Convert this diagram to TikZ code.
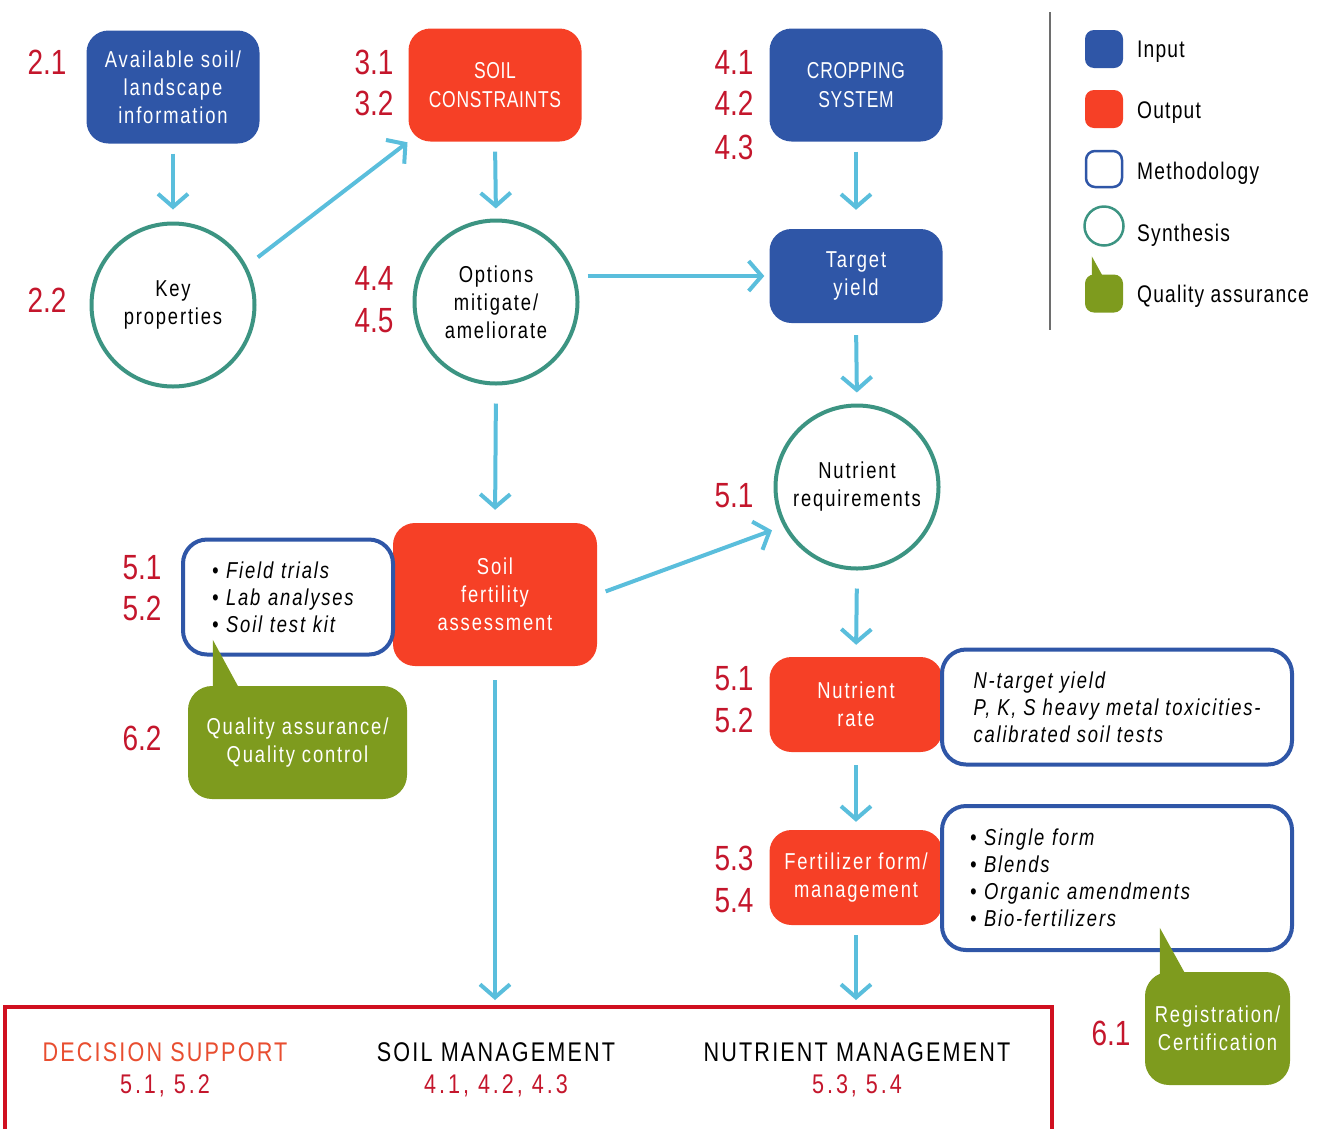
\documentclass[tikz,border=0pt]{standalone}
\usepackage{fontspec}
\usetikzlibrary{arrows.meta}
\setmainfont{Liberation Sans}
\newfontfamily\nodefont[FakeStretch=0.8,LetterSpace=8]{Liberation Sans}
\newfontfamily\itfont[FakeStretch=0.8,LetterSpace=8]{Liberation Sans Italic}
\newfontfamily\capsfont[FakeStretch=0.76,LetterSpace=3]{Liberation Sans}
\newfontfamily\legfont[FakeStretch=0.8,LetterSpace=5]{Liberation Sans}
\newfontfamily\numfont[FakeStretch=0.8]{Liberation Sans}
\newfontfamily\bigfont[FakeStretch=0.8,LetterSpace=8]{Liberation Sans}
\newfontfamily\bignumfont[FakeStretch=0.8,LetterSpace=11]{Liberation Sans}

\definecolor{cblue}{RGB}{47,86,167}
\definecolor{cred}{RGB}{246,64,38}
\definecolor{cgreen}{RGB}{126,155,30}
\definecolor{cteal}{RGB}{60,148,130}
\definecolor{carrow}{RGB}{90,190,220}
\definecolor{cnum}{RGB}{196,22,44}
\definecolor{cframe}{RGB}{208,16,32}
\definecolor{cdec}{RGB}{232,78,48}
\definecolor{cline}{RGB}{110,110,110}

\tikzset{
  txt/.style={font=\nodefont\fontsize{23pt}{28pt}\selectfont, align=center, inner sep=0pt},
  caps/.style={font=\capsfont\fontsize{23pt}{29pt}\selectfont},
  inbox/.style={txt, fill=cblue, text=white, rounded corners=22pt,
    minimum width=173pt, minimum height=113pt},
  outbox/.style={txt, fill=cred, text=white, rounded corners=22pt,
    minimum width=173pt, minimum height=113pt},
  synth/.style={txt, circle, draw=cteal, line width=4pt, fill=white,
    minimum size=163pt},
  meth/.style={font=\itfont\fontsize{23pt}{27pt}\selectfont,
    draw=cblue, line width=4pt, fill=white, rounded corners=24pt,
    align=left, inner ysep=0pt},
  qabox/.style={txt, fill=cgreen, text=white, rounded corners=24pt,
    minimum height=113pt},
  num/.style={font=\numfont\fontsize{35pt}{35pt}\selectfont, text=cnum,
    inner sep=0pt, anchor=base},
  legtxt/.style={font=\legfont\fontsize{24pt}{24pt}\selectfont,
    inner sep=0pt, anchor=base west},
  bigtxt/.style={font=\bigfont\fontsize{27pt}{27pt}\selectfont,
    inner sep=0pt, anchor=base},
  bignum/.style={font=\bignumfont\fontsize{27pt}{27pt}\selectfont, text=cnum,
    inner sep=0pt, anchor=base},
  arr/.style={draw=carrow, line width=4pt,
    -{Straight Barb[length=13pt,width=30pt]}},
}

\begin{document}
\begin{tikzpicture}[x=1pt,y=-1pt]
\useasboundingbox (0,0) rectangle (1321,1128);

% ---- flow boxes ----
\node[inbox] (av) at (173,87) {Available soil/\\landscape\\information};
\node[outbox, caps] (sc) at (495,85) {SOIL\\CONSTRAINTS};
\node[inbox, caps] (cs) at (856,85) {CROPPING\\SYSTEM};
\node[synth] (kp) at (173,305) {Key\\properties};
\node[synth] (op) at (496,302) {Options\\mitigate/\\ameliorate};
\node[inbox, minimum height=94pt] (ty) at (856,276) {Target\\yield};
\node[synth] (nr) at (857,487) {Nutrient\\requirements};
\node[outbox, minimum width=204pt, minimum height=143pt] (sf) at (495,594.5)
  {Soil\\fertility\\assessment};
\node[outbox, minimum height=95pt] (rate) at (856,704.5) {Nutrient\\rate};
\node[outbox, minimum height=95pt] (fz) at (856,877.5)
  {Fertilizer form/\\management};

% ---- methodology boxes ----
\node[meth, minimum width=210pt, minimum height=115pt, text width=152pt,
  inner xsep=29pt] (m1) at (288,597)
  {• Field trials\\• Lab analyses\\• Soil test kit};
\node[meth, minimum width=350pt, minimum height=115pt, inner xsep=0pt]
  (m2) at (1117,707)
  {N-target yield\\P, K, S heavy metal toxicities-\\calibrated soil tests};
\node[meth, minimum width=350pt, minimum height=144pt, text width=294pt,
  inner xsep=28pt] (m3) at (1117,878)
  {• Single form\\• Blends\\• Organic amendments\\• Bio-fertilizers};

% ---- quality assurance callouts ----
\node[qabox, minimum width=219pt] (qa1) at (297.5,742.5)
  {Quality assurance/\\Quality control};
\fill[cgreen] (qa1.north west) ++(25,0) coordinate (t1) -- ++(0,-46) -- ++(25,46)
  -- ++(0,14) -- ++(-25,0) -- cycle;
\node[qabox, minimum width=145pt] (qa2) at (1217.5,1028.5)
  {Registration/\\Certification};
\fill[cgreen] (qa2.north west) ++(15,0) coordinate (t2) -- ++(0,-44) -- ++(26,47)
  -- ++(0,12) -- ++(-26,0) -- cycle;

% ---- outcome frame ----
\draw[cframe, line width=4pt] (5,1140) -- (5,1007) coordinate (ftl)
  -- (1052,1007) coordinate (ftr) -- (1052,1140);
\node[bigtxt, text=cdec] (ds) at (165,1061) {DECISION SUPPORT};
\node[bignum] (dsn) at (165,1093) {5.1, 5.2};
\node[bigtxt] (sm) at (496,1061) {SOIL MANAGEMENT};
\node[bignum] (smn) at (496,1093) {4.1, 4.2, 4.3};
\node[bigtxt] (nm) at (857,1061) {NUTRIENT MANAGEMENT};
\node[bignum] (nmn) at (857,1093) {5.3, 5.4};

% ---- connectors ----
\draw[arr, shorten <=10pt, shorten >=12pt] (av.south) -- (kp.north);
\draw[arr, shorten <=14pt, shorten >=1pt] (kp.28) -- (sc.south west);
\draw[arr, shorten <=10pt, shorten >=10pt] (sc.south) -- (op.north);
\draw[arr, shorten <=8pt, shorten >=5pt] (ty.west -| op.east) -- (ty.west);
\draw[arr, shorten <=10pt, shorten >=19pt] (cs.south) -- (ty.north);
\draw[arr, shorten <=12pt, shorten >=11pt] (ty.south) -- (nr.north);
\draw[arr, shorten <=18pt, shorten >=13pt] (op.south) -- (sf.north);
\draw[arr, shorten <=9pt, shorten >=12pt] (sf.east) -- (nr.208);
\draw[arr, shorten <=18pt, shorten >=12pt] (nr.south) -- (rate.north);
\draw[arr, shorten <=13pt, shorten >=8pt] (rate.south) -- (fz.north);
\draw[arr, shorten <=10pt, shorten >=7pt] (fz.south) -- (fz.south |- ftl);
\draw[arr, shorten <=14pt, shorten >=7pt] (sf.south) -- (sf.south |- ftl);

% ---- section numbers ----
\node[num] (n21) at (47,74) {2.1};
\node[num] (n22) at (47,312) {2.2};
\node[num] (n31) at (374,74) {3.1};
\node[num] (n32) at (374,115) {3.2};
\node[num] (n41) at (734,74) {4.1};
\node[num] (n42) at (734,115) {4.2};
\node[num] (n43) at (734,159) {4.3};
\node[num] (n44) at (374,290) {4.4};
\node[num] (n45) at (374,332) {4.5};
\node[num] (n51a) at (734,507) {5.1};
\node[num] (n51b) at (142,579) {5.1};
\node[num] (n52b) at (142,620) {5.2};
\node[num] (n62) at (142,750) {6.2};
\node[num] (n51c) at (734,690) {5.1};
\node[num] (n52c) at (734,732) {5.2};
\node[num] (n53) at (734,870) {5.3};
\node[num] (n54) at (734,912) {5.4};
\node[num] (n61) at (1111,1045) {6.1};

% ---- legend ----
\draw[cline, line width=2pt] (1050,12) -- (1050,330);
\node[fill=cblue, rounded corners=9pt, minimum size=38pt, inner sep=0pt]
  (lin) at (1104,49) {};
\node[fill=cred, rounded corners=9pt, minimum size=38pt, inner sep=0pt]
  (lout) at (1104,109) {};
\node[draw=cblue, line width=2.5pt, fill=white, rounded corners=9pt,
  minimum size=36pt, inner sep=0pt] (lmeth) at (1104,169) {};
\node[circle, draw=cteal, line width=2.5pt, minimum size=39pt, inner sep=0pt]
  (lsyn) at (1104,226) {};
\node[fill=cgreen, rounded corners=9pt, minimum size=38pt, inner sep=0pt]
  (lqa) at (1104,293.5) {};
\fill[cgreen] (lqa.north west) ++(7,0) -- ++(0,-18) -- ++(11,20) -- ++(0,8)
  -- ++(-11,0) -- cycle;
\node[legtxt] (tin) at (1137,57) {Input};
\node[legtxt] (tout) at (1137,118) {Output};
\node[legtxt] (tmeth) at (1137,179) {Methodology};
\node[legtxt] (tsyn) at (1137,241) {Synthesis};
\node[legtxt] (tqa) at (1137,302) {Quality assurance};
\end{tikzpicture}
\end{document}
